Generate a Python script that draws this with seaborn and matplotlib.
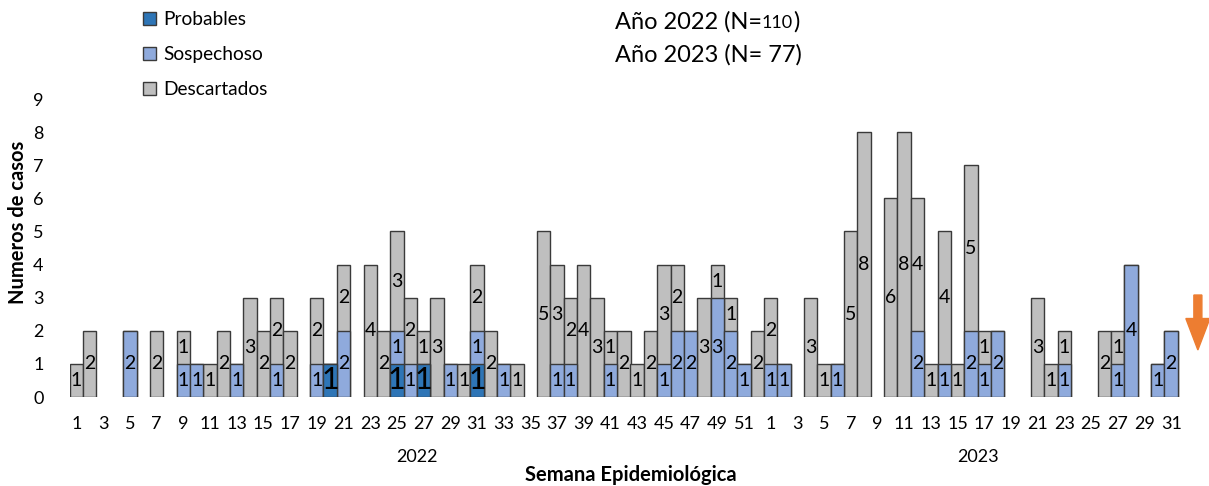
import numpy as np
import pandas as pd
import matplotlib
matplotlib.use("Agg")
import matplotlib.pyplot as plt
from matplotlib.patches import Patch
import matplotlib.transforms as mtransforms
import seaborn as sns

# Weekly case counts by classification (epidemiological weeks)
weeks_2022 = list(range(1, 53))
weeks_2023 = list(range(1, 33))

# 2022: week -> count
probables_2022 = {20: 1, 25: 1, 27: 1, 31: 1}
sospechoso_2022 = {5: 2, 9: 1, 10: 1, 13: 1, 16: 1, 19: 1, 21: 2, 25: 1, 26: 1,
                   29: 1, 31: 1, 33: 1, 37: 1, 38: 1, 41: 1, 45: 1, 46: 2, 47: 2,
                   49: 3, 50: 2, 51: 1}
descartados_2022 = {1: 1, 2: 2, 7: 2, 9: 1, 11: 1, 12: 2, 14: 3, 15: 2, 16: 2, 17: 2,
                    19: 2, 21: 2, 23: 4, 24: 2, 25: 3, 26: 2, 27: 1, 28: 3, 30: 1,
                    31: 2, 32: 2, 34: 1, 36: 5, 37: 3, 38: 2, 39: 4, 40: 3, 41: 1,
                    42: 2, 43: 1, 44: 2, 45: 3, 46: 2, 48: 3, 49: 1, 50: 1, 52: 2}

# 2023: week -> count
probables_2023 = {}
sospechoso_2023 = {1: 1, 2: 1, 6: 1, 12: 2, 14: 1, 16: 2, 17: 1, 18: 2, 23: 1,
                   27: 1, 28: 4, 30: 1, 31: 2}
descartados_2023 = {1: 2, 4: 3, 5: 1, 7: 5, 8: 8, 10: 6, 11: 8, 12: 4, 13: 1, 14: 4,
                    15: 1, 16: 5, 17: 1, 21: 3, 22: 1, 23: 1, 26: 2, 27: 1}

series_names = ["Probables", "Sospechoso", "Descartados"]
colors = {"Probables": "#2E75B6", "Sospechoso": "#8FAADC", "Descartados": "#BFBFBF"}
edge = "#3a3a3a"

rows = []
for year, weeks, p, s, d in [(2022, weeks_2022, probables_2022, sospechoso_2022, descartados_2022),
                             (2023, weeks_2023, probables_2023, sospechoso_2023, descartados_2023)]:
    for w in weeks:
        rows.append({"key": f"{year}-{w:02d}", "year": year, "week": w,
                     "Probables": p.get(w, 0), "Sospechoso": s.get(w, 0),
                     "Descartados": d.get(w, 0)})
df = pd.DataFrame(rows)
df["c1"] = df["Probables"]
df["c2"] = df["c1"] + df["Sospechoso"]
df["c3"] = df["c2"] + df["Descartados"]
order = list(df["key"])

plt.rcParams["font.family"] = ["Lato", "DejaVu Sans"]
W, H = 1209, 486
fig = plt.figure(figsize=(W / 100, H / 100), dpi=100)
n = len(order)
ax_left, ax_right, ax_top, ax_bot = 69.8, 69.8 + n * 13.35, 99, 397
ax = fig.add_axes([ax_left / W, 1 - ax_bot / H, (ax_right - ax_left) / W, (ax_bot - ax_top) / H])

# Stack drawn as cumulative overlays: total first, then lower layers on top
for col, name in [("c3", "Descartados"), ("c2", "Sospechoso"), ("c1", "Probables")]:
    sns.barplot(data=df, x="key", y=col, order=order, color=colors[name],
                saturation=1, width=1.0, edgecolor=edge, linewidth=1.0, ax=ax,
                errorbar=None)
for p in ax.patches:
    if p.get_height() == 0:
        p.set_visible(False)

# Segment value labels
for i, r in df.iterrows():
    bottom = 0
    for name in series_names:
        v = r[name]
        if v > 0:
            big = name == "Probables"
            ax.text(i, bottom + v / 2, f"{v}", ha="center", va="center",
                    fontsize=22 if big else 14, color="black", zorder=5)
        bottom += v

ax.set_xlim(-0.5, n - 0.5)
ax.set_ylim(0, 9)
ax.set_yticks(range(0, 10))
ax.set_xticks(range(n))
ax.set_xticklabels([str(w) if w % 2 == 1 else "" for w in df["week"]])
ax.tick_params(axis="both", length=0, labelsize=13)
ax.tick_params(axis="x", pad=14)
ax.tick_params(axis="y", pad=19)
ax.set_xlabel("")
ax.set_ylabel("")
for s in ax.spines.values():
    s.set_visible(False)
ax.set_facecolor("none")

# Year group labels under the week ticks
trans = mtransforms.blended_transform_factory(ax.transData, ax.transAxes)
for year in (2022, 2023):
    idx = np.where(df["year"].values == year)[0]
    ax.text(idx.mean(), -0.201, str(year), transform=trans, ha="center",
            va="center", fontsize=13)
ax.text(0.5, -0.262, "Semana Epidemiológica", transform=ax.transAxes,
        ha="center", va="center", fontsize=14.5, fontweight="bold")
fig.text(18 / W, 1 - 222 / H, "Numeros de casos", rotation=90, ha="center",
         va="center", fontsize=14.5, fontweight="bold")

# Marker for the most recent week
ax.arrow(n, 3.08, 0, -1.66, width=0.6, head_width=1.8, head_length=0.95,
         length_includes_head=True, color="#ED7D31", clip_on=False, zorder=6)

# Yearly totals, the 2022 count set in smaller digits
base1 = 1 - 28.5 / H
t1 = fig.text(615 / W, base1, "Año 2022 (N=", fontsize=17, ha="left", va="baseline")
t1b = fig.text(0, base1, "110", fontsize=13, ha="left", va="baseline")
t1c = fig.text(0, base1, ")", fontsize=17, ha="left", va="baseline")
fig.canvas.draw()
r = fig.canvas.get_renderer()
t1b.set_x(t1.get_window_extent(r).x1 / W)
fig.canvas.draw()
t1c.set_x(t1b.get_window_extent(r).x1 / W)
fig.text(615 / W, 1 - 61.5 / H, "Año 2023 (N= 77)", fontsize=17, ha="left", va="baseline")

handles = [Patch(facecolor=colors[nm], edgecolor=edge, linewidth=1.0) for nm in series_names]
fig.legend(handles, series_names, loc="upper left", bbox_to_anchor=(143 / W, 1 - 11 / H),
           frameon=False, fontsize=13.8, handlelength=0.7, handleheight=0.7,
           handletextpad=0.35, labelspacing=0.95, borderaxespad=0, borderpad=0)

fig.savefig("out.png", dpi=100)
